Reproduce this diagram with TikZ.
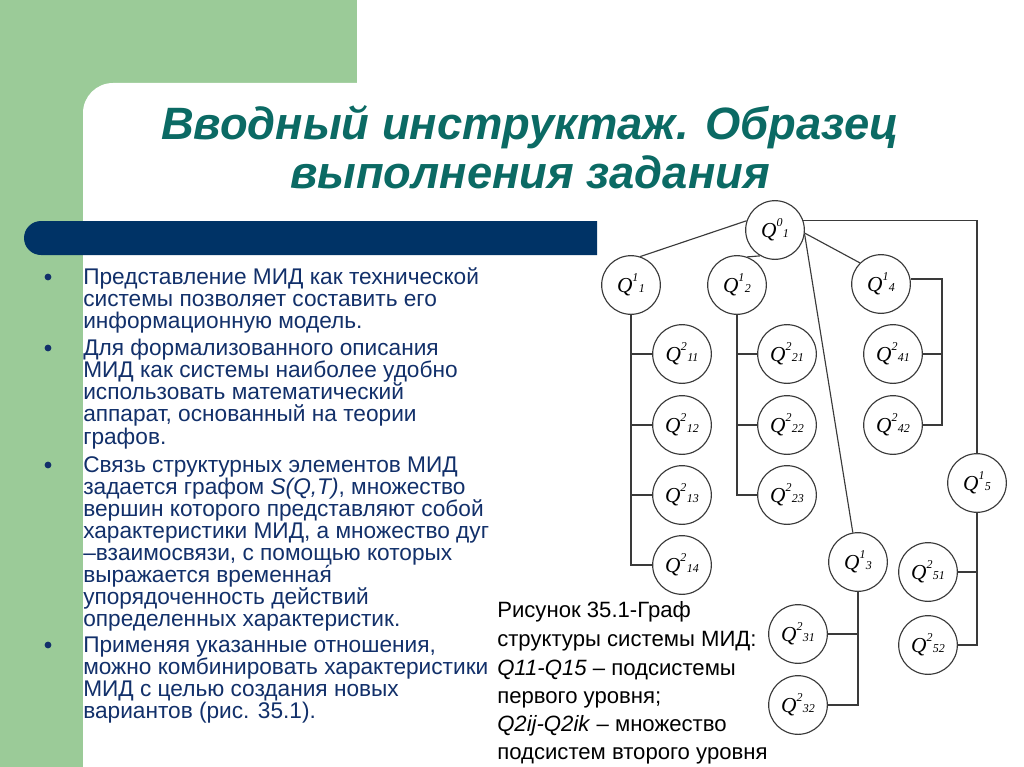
\documentclass[tikz,border=0pt]{standalone}
\usepackage{fontspec}
\setmainfont{Liberation Sans}
\newfontfamily\qfont{Liberation Serif}
\definecolor{bggreen}{HTML}{9BCB98}
\definecolor{barblue}{HTML}{003366}
\definecolor{titlec}{HTML}{0B6A64}
\definecolor{bodyc}{HTML}{12306A}
\definecolor{linec}{HTML}{3A3A3A}
\newcommand\ql[2]{{\qfont\itshape Q\raisebox{0.5em}{\fontsize{9}{9}\selectfont #1}\kern0.02em\raisebox{0.02em}{\fontsize{9}{9}\selectfont #2}}}
\newcommand\bl[3]{\node[btxt] (#1) at (83,#2) {#3};}
\newcommand\cl[3]{\node[ctxt] (#1) at (497,#2) {#3};}
\begin{document}
\begin{tikzpicture}[x=0.75pt,y=-0.75pt,
  btxt/.style={anchor=base west,inner sep=0pt,text=bodyc,font=\fontsize{17}{18}\selectfont},
  ctxt/.style={anchor=base west,inner sep=0pt,text=black,font=\fontsize{16.6}{18}\selectfont},
  ttxt/.style={anchor=base,inner sep=0pt,text=titlec,font=\fontsize{34}{40}\selectfont\bfseries\itshape},
  qn/.style={circle,draw=linec,line width=0.85pt,minimum size=44pt,inner sep=0pt,font=\fontsize{16}{16}\selectfont},
  edge/.style={draw=linec,line width=0.85pt}]
\useasboundingbox (0,0) rectangle (1024,767);
% background
\fill[white] (0,0) rectangle (1024,767);
\fill[bggreen] (0,0) rectangle (357,113);
\fill[bggreen] (0,0) rectangle (83,767);
\fill[white,rounded corners=22.5pt] (83,800) -- (83,83) -- (1060,83) -- (1060,800) -- cycle;
\fill[barblue] (597,221) -- (41,221) arc (270:90:17) -- (597,255) -- cycle;
% title
\node[ttxt] (t1) at (530,139) {Вводный инструктаж. Образец};
\node[ttxt] (t2) at (530,188) {выполнения задания};
% bullets
\foreach \y in {277,348,465,645} \fill[bodyc] (48,\y) circle (3.4);
\bl{a1}{284}{Представление МИД как технической}
\bl{a2}{306}{системы позволяет составить его}
\bl{a3}{328}{информационную модель.}
\bl{b1}{355}{Для формализованного описания}
\bl{b2}{377}{МИД как системы наиболее удобно}
\bl{b3}{399}{использовать математический}
\bl{b4}{421}{аппарат, основанный на теории}
\bl{b5}{444}{графов.}
\bl{c1}{472}{Связь структурных элементов МИД}
\bl{c2}{494}{задается графом \textit{S(Q,T)},\ множество}
\bl{c3}{516}{вершин которого представляют собой}
\bl{c4}{538}{характеристики МИД, а множество дуг}
\bl{c5}{560}{–взаимосвязи, с помощью которых}
\bl{c6}{582}{выражается временная́}
\bl{c7}{604}{упорядоченность действий}
\bl{c8}{626}{определенных характеристик.}
\bl{d1}{652}{Применяя указанные отношения,}
\bl{d2}{674}{можно комбинировать характеристики}
\bl{d3}{696}{МИД с целью создания новых}
\bl{d4}{718}{вариантов (рис. 35.1).}
% caption
\cl{e1}{617}{Рисунок 35.1-Граф}
\cl{e2}{646}{структуры системы МИД:}
\cl{e3}{675}{\textit{Q11-Q15} – подсистемы}
\cl{e4}{703}{первого уровня;}
\cl{e5}{731}{\textit{Q2ij-Q2ik} – множество}
\cl{e6}{759}{подсистем второго уровня}
% graph nodes
\node[qn] (Q01) at (775,230) {\ql{0}{1}};
\node[qn] (Q11) at (631,285) {\ql{1}{1}};
\node[qn] (Q12) at (737,285) {\ql{1}{2}};
\node[qn] (Q14) at (881,284) {\ql{1}{4}};
\node[qn] (Q211) at (682,354) {\ql{2}{11}};
\node[qn] (Q212) at (682,425) {\ql{2}{12}};
\node[qn] (Q213) at (682,495) {\ql{2}{13}};
\node[qn] (Q214) at (682,565) {\ql{2}{14}};
\node[qn] (Q221) at (787,354) {\ql{2}{21}};
\node[qn] (Q222) at (787,425) {\ql{2}{22}};
\node[qn] (Q223) at (787,495) {\ql{2}{23}};
\node[qn] (Q241) at (893,354) {\ql{2}{41}};
\node[qn] (Q242) at (893,425) {\ql{2}{42}};
\node[qn] (Q15) at (977,483) {\ql{1}{5}};
\node[qn] (Q13) at (858,562) {\ql{1}{3}};
\node[qn] (Q251) at (928,572) {\ql{2}{51}};
\node[qn] (Q252) at (928,645) {\ql{2}{52}};
\node[qn] (Q231) at (798,634) {\ql{2}{31}};
\node[qn] (Q232) at (798,705) {\ql{2}{32}};
\coordinate (t4) at (942,279);
% edges
\path[edge] (Q01.162) -- (Q11.72);
\path[edge] (Q01.240) -- (Q12.70);
\path[edge] (Q01.-6) -- (Q14.135);
\path[edge] (Q01.-8) -- (Q13.100);
\path[edge] (Q01.18) -| (Q15.north);
\path[edge] (Q11.south) -- (Q11.south |- Q214.west) -- (Q214.west);
\foreach \n in {Q211,Q212,Q213} \path[edge] (Q11.south |- \n.west) -- (\n.west);
\path[edge] (Q12.south) -- (Q12.south |- Q223.west) -- (Q223.west);
\foreach \n in {Q221,Q222} \path[edge] (Q12.south |- \n.west) -- (\n.west);
\path[edge] (Q14.east |- t4) -- (t4) -- (t4 |- Q242.east) -- (Q242.east);
\path[edge] (Q241.east) -- (t4 |- Q241.east);
\path[edge] (Q15.south) -- (Q15.south |- Q252.east) -- (Q252.east);
\path[edge] (Q251.east) -- (Q15.south |- Q251.east);
\path[edge] (Q13.south) -- (Q13.south |- Q232.east) -- (Q232.east);
\path[edge] (Q231.east) -- (Q13.south |- Q231.east);
\end{tikzpicture}
\end{document}
